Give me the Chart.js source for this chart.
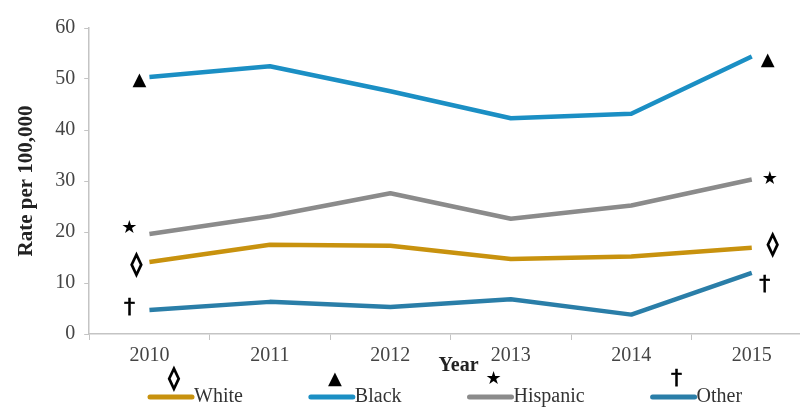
<!DOCTYPE html>
<html>
<head>
<meta charset="utf-8">
<script src="https://cdn.jsdelivr.net/npm/chart.js@4.4.1/dist/chart.umd.min.js"></script>
<style>
  html, body { margin: 0; padding: 0; background: #fff; overflow: hidden; }
  #wrap { position: relative; width: 830px; height: 407px; }
</style>
</head>
<body>
<div id="wrap"><canvas id="rateChart"></canvas></div>
<script>
const years = ['2010','2011','2012','2013','2014','2015'];
const seriesNames = ['White','Black','Hispanic','Other'];
const whiteRate    = [14.1, 17.5, 17.3, 14.7, 15.2, 16.9];
const blackRate    = [50.4, 52.5, 47.6, 42.3, 43.2, 54.4];
const hispanicRate = [19.6, 23.1, 27.6, 22.6, 25.2, 30.3];
const otherRate    = [4.7, 6.3, 5.3, 6.8, 3.8, 12.0];
const yTicks = [0, 10, 20, 30, 40, 50, 60];
const symbols = ['\u25CA', '\u25B2', '\u2605', '\u2020'];

const colors = ['#c8920e', '#1b8fc4', '#8b8b8b', '#2a7ea8'];

DocumentReady(function(){
  const ctx = document.getElementById('rateChart');

  // symbols next to first/last points, offsets in px from the point
  const marks = [
    { start: [-13, 3], end: [21, -3] },
    { start: [-10, 3], end: [16, 4] },
    { start: [-20, -6], end: [18, 0] },
    { start: [-20, -2], end: [13, 12] }
  ];
  const symFonts = ['22px', '18px', '18px', '22px'];
  const symStroke = [1.6, 0, 0, 0.6];

  function drawSym(c, i, x, y){
    c.font = symFonts[i] + ' "DejaVu Sans"';
    c.fillText(symbols[i], x, y);
    if(symStroke[i]){
      c.lineWidth = symStroke[i];
      c.strokeStyle = '#000';
      c.strokeText(symbols[i], x, y);
    }
  }

  const annotate = {
    id: 'annotate',
    afterDatasetsDraw(chart){
      const c = chart.ctx;
      c.save();
      c.fillStyle = '#000';
      c.textAlign = 'center';
      c.textBaseline = 'middle';
      chart.data.datasets.forEach((ds, i) => {
        const pts = chart.getDatasetMeta(i).data;
        const a = pts[0], b = pts[pts.length - 1];
        drawSym(c, i, a.x + marks[i].start[0], a.y + marks[i].start[1]);
        drawSym(c, i, b.x + marks[i].end[0], b.y + marks[i].end[1]);
      });

      // axis title "Year"
      const area = chart.chartArea;
      c.font = 'bold 20px "Liberation Serif"';
      c.fillStyle = '#222';
      c.fillText('Year', (area.left + area.right) / 2 + 8, 366);

      // legend
      let x = 150;
      const y = 397;
      chart.data.datasets.forEach((ds, i) => {
        c.strokeStyle = ds.borderColor;
        c.lineWidth = 5;
        c.lineCap = 'round';
        c.beginPath();
        c.moveTo(x, y);
        c.lineTo(x + 42, y);
        c.stroke();
        c.fillStyle = '#000';
        c.textAlign = 'center';
        drawSym(c, i, x + 24, 379);
        c.font = '20px "Liberation Serif"';
        c.fillStyle = '#333';
        c.textAlign = 'left';
        c.fillText(ds.label, x + 44, y);
        x += 44 + c.measureText(ds.label).width + 68;
      });
      c.restore();
    }
  };

  new Chart(ctx, {
    type: 'line',
    data: {
      labels: years,
      datasets: [whiteRate, blackRate, hispanicRate, otherRate].map((d, i) => ({
        label: seriesNames[i],
        data: d,
        borderColor: colors[i],
        backgroundColor: colors[i],
        borderWidth: 4.5,
        pointRadius: 0,
        tension: 0,
        borderJoinStyle: 'round'
      }))
    },
    options: {
      responsive: true,
      maintainAspectRatio: false,
      animation: false,
      layout: { padding: { top: 28, right: 18, bottom: 35, left: 14 } },
      plugins: {
        legend: { display: false },
        tooltip: { enabled: false }
      },
      scales: {
        x: {
          offset: true,
          grid: { offset: true, drawOnChartArea: false, drawTicks: true, tickLength: 6, color: '#c4c4c4' },
          border: { color: '#c4c4c4', width: 1.5 },
          ticks: { color: '#444', padding: 4, font: { family: 'Liberation Serif', size: 20 } }
        },
        y: {
          min: 0,
          max: 60,
          afterBuildTicks: s => { s.ticks = yTicks.map(v => ({ value: v })); },
          grid: { drawOnChartArea: false, drawTicks: true, tickLength: 5, color: '#c4c4c4' },
          border: { color: '#c4c4c4', width: 1.5 },
          ticks: { color: '#444', padding: 9, font: { family: 'Liberation Serif', size: 20 } },
          title: {
            display: true,
            text: 'Rate per 100,000',
            color: '#222',
            padding: { top: 0, bottom: 7 },
            font: { family: 'Liberation Serif', size: 21, weight: 'bold' }
          }
        }
      }
    },
    plugins: [annotate]
  });
});

function DocumentReady(cb){
  if(document.readyState!=='loading')cb();
  else document.addEventListener('DOMContentLoaded',cb);
}
</script>
</body>
</html>
